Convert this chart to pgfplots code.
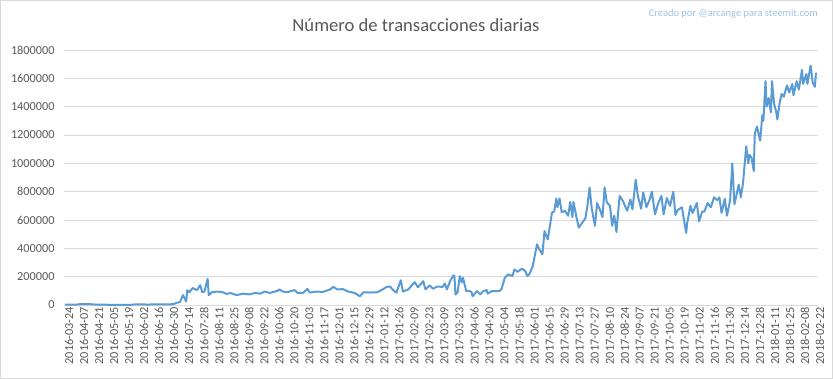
\documentclass[border=0pt]{standalone}
\usepackage{pgfplots}
\pgfplotsset{compat=1.18}
\usepackage{fontspec}
\setmainfont{Carlito}
\definecolor{linec}{HTML}{5B9BD5}
\definecolor{gridc}{HTML}{D9D9D9}
\definecolor{txtc}{HTML}{595959}
\definecolor{credc}{HTML}{9DC3E6}
\begin{document}
\begin{tikzpicture}
\useasboundingbox (-64bp,-74bp) rectangle (769bp,305bp);
\begin{axis}[
  at={(0,0)}, anchor=south west,
  scale only axis, width=754bp, height=255bp,
  xmin=-0.9, xmax=701.9, ymin=0, ymax=1800000,
  axis line style={draw=none},
  ymajorgrids, grid style={gridc, line width=0.75bp},
  major tick length=0pt,
  ytick={0,200000,...,1800000},
  scaled y ticks=false,
  /pgf/number format/.cd, fixed, 1000 sep={}, assume math mode=true,
  /pgfplots/.cd,
  yticklabel style={font=\fontsize{12.3}{14}\selectfont, text=txtc, xshift=-6bp},
  xtick={0,14,...,700},
  xticklabels={2016-03-24,2016-04-07,2016-04-21,2016-05-05,2016-05-19,2016-06-02,2016-06-16,2016-06-30,2016-07-14,2016-07-28,2016-08-11,2016-08-25,2016-09-08,2016-09-22,2016-10-06,2016-10-20,2016-11-03,2016-11-17,2016-12-01,2016-12-15,2016-12-29,2017-01-12,2017-01-26,2017-02-09,2017-02-23,2017-03-09,2017-03-23,2017-04-06,2017-04-20,2017-05-04,2017-05-18,2017-06-01,2017-06-15,2017-06-29,2017-07-13,2017-07-27,2017-08-10,2017-08-24,2017-09-07,2017-09-21,2017-10-05,2017-10-19,2017-11-02,2017-11-16,2017-11-30,2017-12-14,2017-12-28,2018-01-11,2018-01-25,2018-02-08,2018-02-22},
  xticklabel style={font=\fontsize{12.3}{14}\selectfont, text=txtc, rotate=90, anchor=east, inner sep=2bp, yshift=-4bp},
  clip=false,
]
\draw[gridc, line width=0.75bp] (axis cs:-0.9,0) -- (axis cs:701.9,0);
\addplot[linec, line width=2bp, line join=round] table {
x y
0 2000
11 3000
14 6000
23 6000
28 3000
33 2000
61 1000
65 4000
75 4000
77 1000
79 4000
98 5000
101 6000
104 15000
107 20000
110 70000
112 40000
113 25000
114 105000
116 90000
119 120000
123 105000
126 140000
128 90000
130 95000
133 185000
134 70000
137 90000
142 95000
147 90000
151 78000
154 85000
160 70000
166 80000
172 75000
177 85000
182 80000
186 95000
191 85000
198 100000
200 110000
203 95000
207 90000
210 97000
214 105000
217 85000
222 86000
226 114000
228 88000
235 95000
240 92000
247 109000
250 128000
254 110000
259 112000
264 95000
270 85000
275 61000
278 90000
284 88000
291 90000
295 105000
300 128000
303 130000
306 105000
309 87000
313 175000
315 95000
320 110000
326 161000
329 125000
334 168000
336 110000
340 138000
343 115000
347 130000
352 128000
354 152000
356 110000
359 169000
362 209000
363 205000
364 74000
366 90000
368 204000
370 160000
371 193000
374 98000
377 100000
379 90000
380 62000
384 98000
387 75000
390 98000
393 105000
394 80000
398 98000
401 98000
405 98000
407 115000
410 193000
413 216000
417 205000
419 251000
422 235000
426 257000
429 240000
431 204000
433 220000
436 274000
440 429000
442 395000
445 357000
447 522000
450 463000
454 654000
456 660000
458 752000
459 690000
461 752000
463 655000
466 665000
469 630000
471 727000
473 620000
474 727000
477 610000
479 546000
482 580000
485 610000
487 700000
489 830000
491 680000
494 558000
496 720000
499 665000
501 620000
503 830000
505 725000
508 700000
510 560000
512 630000
514 515000
517 770000
520 735000
524 665000
527 745000
529 675000
532 884000
534 770000
537 680000
539 795000
542 690000
545 745000
547 800000
550 640000
553 720000
556 770000
558 640000
561 755000
564 700000
567 800000
569 635000
571 670000
575 690000
577 600000
579 508000
580 580000
583 700000
585 650000
589 720000
591 590000
594 660000
596 660000
599 720000
602 690000
605 760000
608 740000
610 760000
612 650000
615 750000
617 630000
620 740000
622 1000000
624 710000
626 780000
628 850000
630 760000
632 860000
635 1120000
637 1000000
638 1060000
640 1040000
642 945000
643 1210000
645 1260000
648 1160000
650 1340000
651 1300000
653 1580000
654 1400000
656 1460000
658 1360000
659 1580000
661 1420000
663 1360000
664 1310000
666 1420000
668 1490000
670 1470000
673 1550000
675 1500000
678 1560000
679 1480000
682 1580000
684 1520000
687 1660000
688 1560000
691 1630000
692 1560000
695 1690000
697 1570000
699 1540000
700 1640000
};
\end{axis}
\node[text=txtc, font=\fontsize{18.7}{22}\selectfont] at (352bp,280bp) {Número de transacciones diarias};
\node[text=credc, font=\fontsize{10.5}{12}\selectfont, anchor=east, inner sep=0pt] at (754bp,291bp) {Creado por @arcange para steemit.com};
\draw[gridc, line width=1bp] (-63.5bp,-73.5bp) rectangle (768.5bp,304.5bp);
\end{tikzpicture}
\end{document}
